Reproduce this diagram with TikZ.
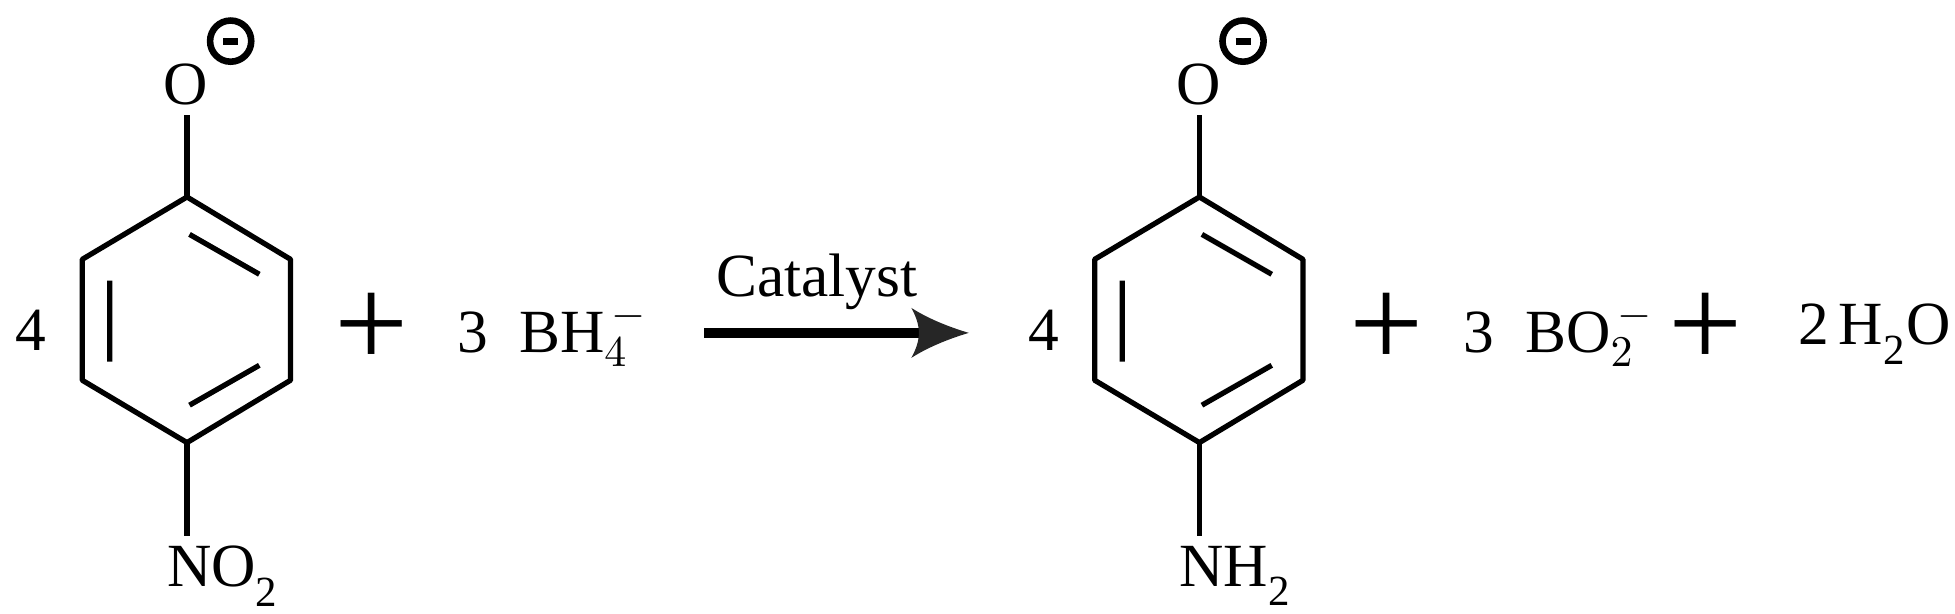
\documentclass[tikz,border=0pt]{standalone}
\usepackage{fontspec}
\setmainfont{Liberation Serif}
\begin{document}
\begin{tikzpicture}[x=0.01cm,y=-0.01cm,line width=1.2pt,
  lbl/.style={inner sep=0pt,font=\fontsize{14}{16}\selectfont},
  plus/.style={inner sep=0pt,font=\fontsize{30}{30}\selectfont},
  minus/.style={circle,draw,line width=1.5pt,minimum size=0.33cm,inner sep=0pt}]
\useasboundingbox (0,0) rectangle (1568,492);
\foreach \dx/\sub/\nm in {0/NO/a,812/NH/b}{
  \begin{scope}[xshift=\dx*0.01cm]
  \coordinate (\nm t) at (150,158); \coordinate (\nm ur) at (233,208);
  \coordinate (\nm lr) at (233,305); \coordinate (\nm b) at (150,355);
  \coordinate (\nm ll) at (66,305); \coordinate (\nm ul) at (66,208);
  \draw[line join=round] (\nm t)--(\nm ur)--(\nm lr)--(\nm b)--(\nm ll)--(\nm ul)--cycle;
  \draw (88,225)--(88,290) (152,188)--(208,220) (152,325)--(208,293);
  \node[lbl] (\nm O) at (149,68) {O};
  \draw (\nm t)--(150,92);
  \node[minus] (\nm m) at (185,33) {};
  \draw[line width=1.6pt] (\nm m.center)++(-6,0)--++(12,0);
  \coordinate (\nm n) at (150,430);
  \draw (\nm b)--(\nm n);
  \node[lbl,anchor=north west] (\nm s) at (132,436) {\sub\raisebox{-0.35ex}{\textsubscript{2}}};
  \node[lbl] (\nm four) at (25,265) {4};
  \end{scope}}
\node[plus] (p1) at (298,265) {+};
\node[lbl,anchor=west] (r2) at (365,268) {3\enspace BH$_{4}^{\,-}$};
\node[lbl] (cat) at (655,226) {Catalyst};
\coordinate (s) at (565,267); \coordinate (e) at (777,267);
\draw[line width=2.2pt] (s)--(740,267);
\fill[black!85] (e) .. controls (757,273) and (742,280) .. (731,287)
  .. controls (739,272) and (739,262) .. (731,247)
  .. controls (742,254) and (757,261) .. (e);
\node[plus] (p2) at (1112,265) {+};
\node[lbl,anchor=west] (r3) at (1172,268) {3\enspace BO$_{2}^{\,-}$};
\node[plus] (p3) at (1368,265) {+};
\node[lbl,anchor=west] (r4) at (1440,268) {2\,H\raisebox{-0.35ex}{\textsubscript{2}}O};
\end{tikzpicture}
\end{document}
